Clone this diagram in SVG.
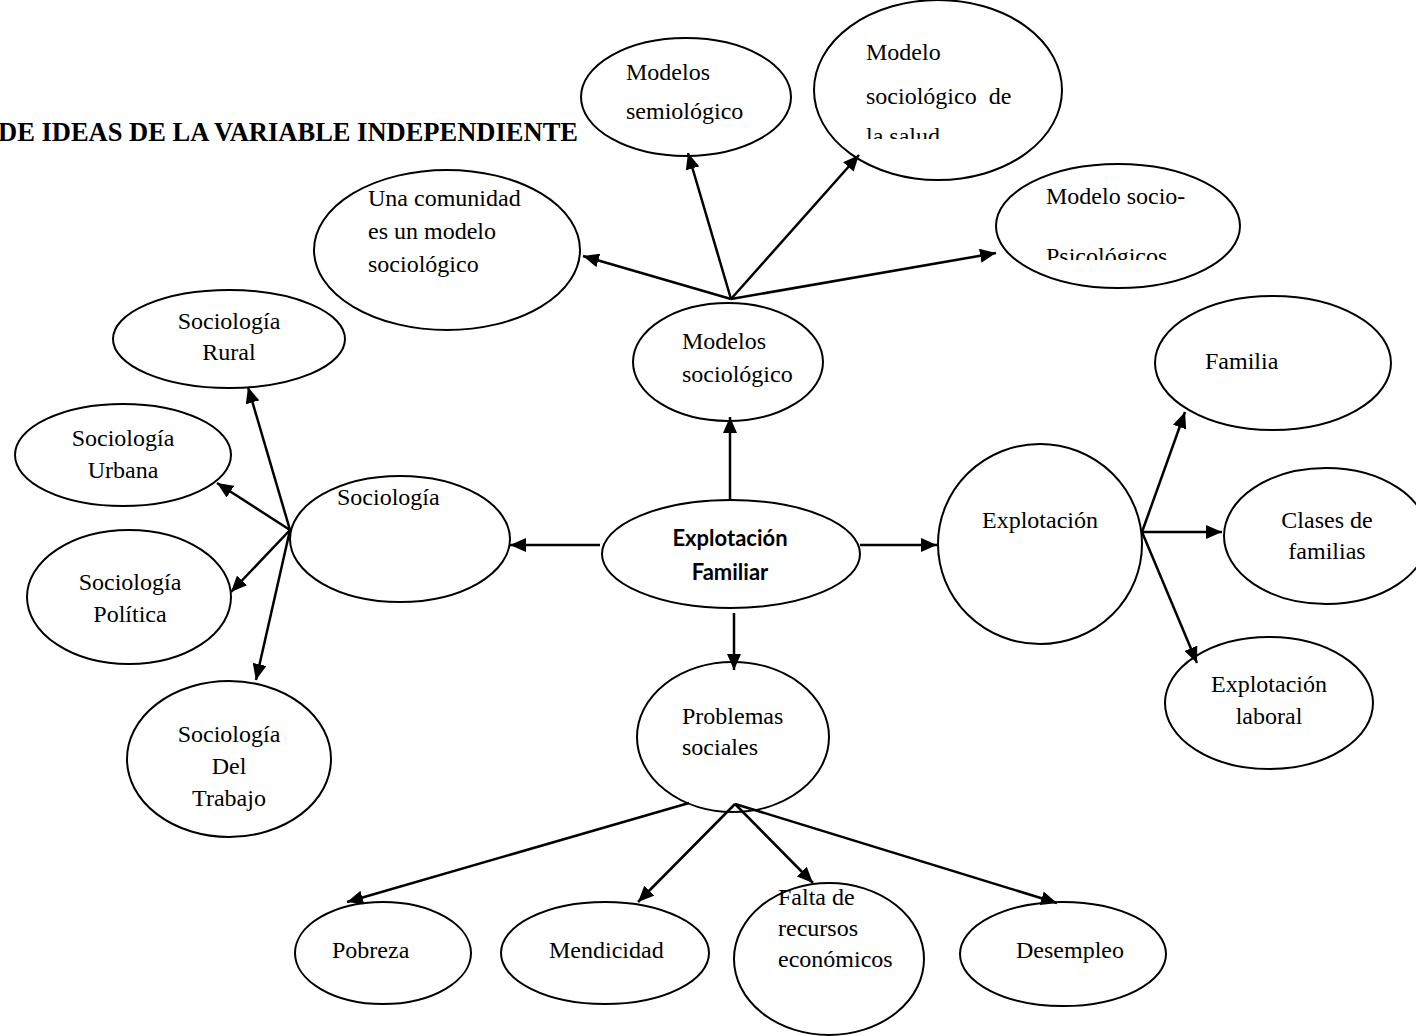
<svg xmlns="http://www.w3.org/2000/svg" width="1416" height="1036" viewBox="0 0 1416 1036">
<style>
.n{fill:#fff;stroke:#000;stroke-width:2}
.t{font-family:"Liberation Serif","Times New Roman",serif;font-size:24px;fill:#000}
.c{text-anchor:middle}
.b{font-family:Lato,"Liberation Sans",sans-serif;font-weight:bold;font-size:22px;fill:#000;text-anchor:middle}
.e{stroke:#000;stroke-width:2.5;fill:none;marker-end:url(#ah)}
</style>
<defs>
<marker id="ah" markerUnits="userSpaceOnUse" markerWidth="16" markerHeight="14" refX="16" refY="7" orient="auto">
<path d="M0,0 L16,7 L0,14 z" fill="#000"/>
</marker>
<clipPath id="clipSalud"><rect x="815" y="0" width="250" height="139"/></clipPath>
<clipPath id="clipPsico"><rect x="996" y="160" width="250" height="100"/></clipPath>
</defs>
<rect width="1416" height="1036" fill="#fff"/>
<text x="578" y="141" style="font-family:'Liberation Serif','Times New Roman',serif;font-weight:bold;font-size:26.5px;text-anchor:end">DE IDEAS DE LA VARIABLE INDEPENDIENTE</text>

<g id="n-semiologico"><ellipse class="n" cx="686" cy="97" rx="105" ry="59"/>
<text class="t" x="626" y="80">Modelos</text><text class="t" x="626" y="119">semiológico</text></g>

<g id="n-salud"><ellipse class="n" cx="938" cy="90" rx="124" ry="90"/>
<g clip-path="url(#clipSalud)"><text class="t" x="866" y="60">Modelo</text><text class="t" x="866" y="104" xml:space="preserve">sociológico  de</text><text class="t" x="866" y="144">la salud</text></g></g>

<g id="n-comunidad"><ellipse class="n" cx="447" cy="250" rx="133" ry="80"/>
<text class="t" x="368" y="206">Una comunidad</text><text class="t" x="368" y="239">es un modelo</text><text class="t" x="368" y="272">sociológico</text></g>

<g id="n-psico"><ellipse class="n" cx="1118" cy="226" rx="122" ry="62"/>
<g clip-path="url(#clipPsico)"><text class="t" x="1046" y="204">Modelo socio-</text><text class="t" x="1046" y="264">Psicológicos</text></g></g>

<g id="n-modelos"><ellipse class="n" cx="728" cy="362" rx="95" ry="59"/>
<text class="t" x="682" y="349">Modelos</text><text class="t" x="682" y="382">sociológico</text></g>

<g id="n-rural"><ellipse class="n" cx="229" cy="339" rx="116" ry="49"/>
<text class="t c" x="229" y="329">Sociología</text><text class="t c" x="229" y="360">Rural</text></g>

<g id="n-urbana"><ellipse class="n" cx="123" cy="455" rx="108" ry="51"/>
<text class="t c" x="123" y="446">Sociología</text><text class="t c" x="123" y="478">Urbana</text></g>

<g id="n-sociologia"><ellipse class="n" cx="400" cy="539" rx="110" ry="63"/>
<text class="t" x="337" y="505">Sociología</text></g>

<g id="n-politica"><ellipse class="n" cx="129" cy="597" rx="102" ry="67"/>
<text class="t c" x="130" y="590">Sociología</text><text class="t c" x="130" y="622">Política</text></g>

<g id="n-trabajo"><ellipse class="n" cx="229" cy="759" rx="102" ry="78"/>
<text class="t c" x="229" y="742">Sociología</text><text class="t c" x="229" y="774">Del</text><text class="t c" x="229" y="806">Trabajo</text></g>

<g id="n-explotacion-familiar"><ellipse class="n" cx="731" cy="554" rx="129" ry="54"/>
<text class="b" x="730" y="546">Explotación</text><text class="b" x="730" y="580">Familiar</text></g>

<g id="n-explotacion"><ellipse class="n" cx="1040" cy="544" rx="102" ry="100"/>
<text class="t" x="982" y="528">Explotación</text></g>

<g id="n-familia"><ellipse class="n" cx="1273" cy="363" rx="118" ry="67"/>
<text class="t" x="1205" y="369">Familia</text></g>

<g id="n-clases"><ellipse class="n" cx="1326" cy="536" rx="102" ry="68"/>
<text class="t c" x="1327" y="528">Clases de</text><text class="t c" x="1327" y="559">familias</text></g>

<g id="n-laboral"><ellipse class="n" cx="1269" cy="703" rx="104" ry="66"/>
<text class="t c" x="1269" y="692">Explotación</text><text class="t c" x="1269" y="724">laboral</text></g>

<g id="n-problemas"><ellipse class="n" cx="733" cy="737" rx="96" ry="75"/>
<text class="t" x="682" y="724">Problemas</text><text class="t" x="682" y="755">sociales</text></g>

<g id="n-pobreza"><ellipse class="n" cx="383" cy="953" rx="88" ry="51"/>
<text class="t" x="332" y="958">Pobreza</text></g>

<g id="n-mendicidad"><ellipse class="n" cx="605" cy="953" rx="104" ry="51"/>
<text class="t" x="549" y="958">Mendicidad</text></g>

<g id="n-falta"><ellipse class="n" cx="829" cy="959" rx="95" ry="76"/>
<text class="t" x="778" y="905">Falta de</text><text class="t" x="778" y="936">recursos</text><text class="t" x="778" y="967">económicos</text></g>

<g id="n-desempleo"><ellipse class="n" cx="1063" cy="954" rx="103" ry="52"/>
<text class="t" x="1016" y="958">Desempleo</text></g>

<g id="connectors">
<line class="e" x1="731" y1="299" x2="583" y2="256"/>
<line class="e" x1="731" y1="299" x2="688" y2="153"/>
<line class="e" x1="731" y1="299" x2="859" y2="155"/>
<line class="e" x1="731" y1="299" x2="996" y2="253"/>
<line class="e" x1="730" y1="499" x2="730" y2="417"/>
<line class="e" x1="600" y1="545" x2="510" y2="545"/>
<line class="e" x1="860" y1="545" x2="937" y2="545"/>
<line class="e" x1="734" y1="613" x2="734" y2="670"/>
<line class="e" x1="290" y1="530" x2="248" y2="387"/>
<line class="e" x1="290" y1="530" x2="217" y2="483"/>
<line class="e" x1="290" y1="530" x2="231" y2="592"/>
<line class="e" x1="290" y1="530" x2="256" y2="680"/>
<line class="e" x1="1142" y1="532" x2="1185" y2="412"/>
<line class="e" x1="1142" y1="532" x2="1222" y2="532"/>
<line class="e" x1="1142" y1="532" x2="1197" y2="663"/>
<line class="e" x1="689" y1="803" x2="347" y2="902"/>
<line class="e" x1="735" y1="804" x2="638" y2="902"/>
<line class="e" x1="735" y1="804" x2="813" y2="883"/>
<line class="e" x1="735" y1="804" x2="1057" y2="903"/>
</g>
</svg>
